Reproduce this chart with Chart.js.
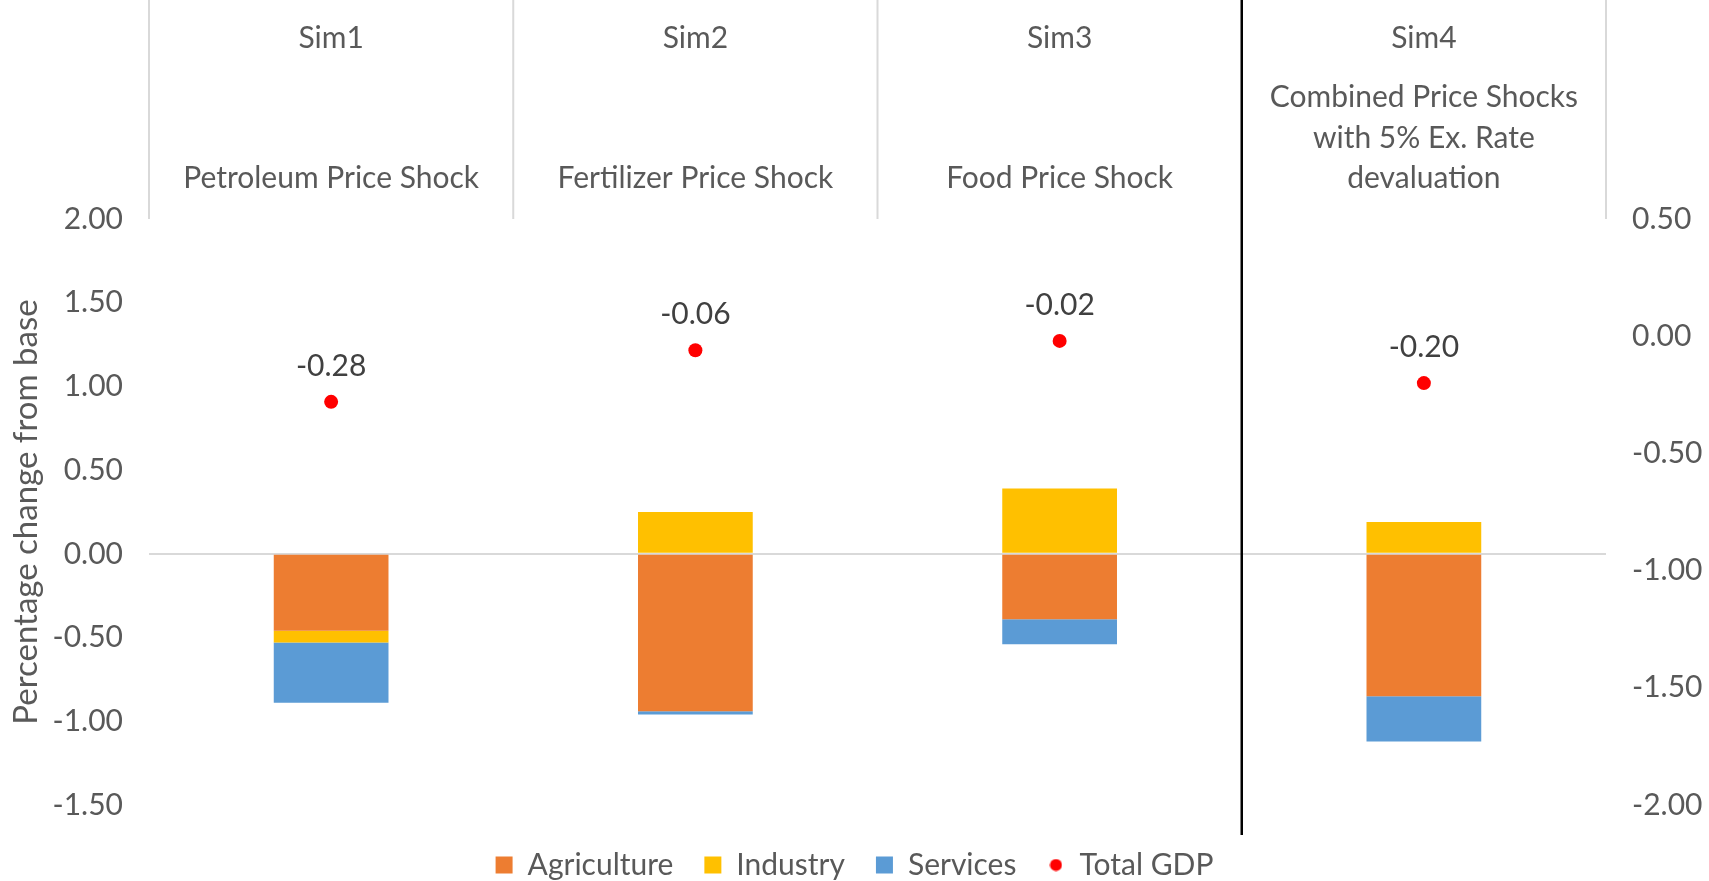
<!DOCTYPE html>
<html>
<head>
<meta charset="utf-8">
<script src="https://cdn.jsdelivr.net/npm/chart.js@4.4.1/dist/chart.umd.min.js"></script>
<style>
  html, body { margin: 0; padding: 0; background: #fff; }
</style>
</head>
<body>
<canvas id="chart" width="1709" height="881"></canvas>
<script>
// --- Data ---
const simNames = ['Sim1', 'Sim2', 'Sim3', 'Sim4'];
const shockNames = [
    ['Petroleum Price Shock'],
    ['Fertilizer Price Shock'],
    ['Food Price Shock'],
    ['Combined Price Shocks', 'with 5% Ex. Rate', 'devaluation']
];
const agriculture = [-0.46, -0.94, -0.39, -0.85];
const industry = [-0.07, 0.25, 0.39, 0.19];
const services = [-0.36, -0.02, -0.15, -0.27];
const totalGdp = [-0.28, -0.06, -0.02, -0.20];

const FONT = 'Lato';
const TEXT = '#595959';

// small red dot for the legend entry of Total GDP
const dot = document.createElement('canvas');
dot.width = 13;
dot.height = 13;
const dctx = dot.getContext('2d');
dctx.fillStyle = '#ff0000';
dctx.beginPath();
dctx.arc(6.5, 6.5, 6, 0, Math.PI * 2);
dctx.fill();

// value labels above the GDP dots
const gdpLabels = {
    id: 'gdpLabels',
    afterDatasetsDraw(chart) {
        const meta = chart.getDatasetMeta(3);
        const ctx = chart.ctx;
        ctx.save();
        ctx.font = `30px ${FONT}`;
        ctx.fillStyle = '#404040';
        ctx.textAlign = 'center';
        ctx.textBaseline = 'middle';
        meta.data.forEach((pt, i) => {
            ctx.fillText(totalGdp[i].toFixed(2), pt.x, pt.y - 36);
        });
        ctx.restore();
    }
};

// category separators in the header, and the black line before Sim4
const dividers = {
    id: 'dividers',
    afterDraw(chart) {
        const xs = chart.scales.x;
        const area = chart.chartArea;
        const ctx = chart.ctx;
        const half = (xs.getPixelForValue(1) - xs.getPixelForValue(0)) / 2;
        ctx.save();
        for (let i = 0; i <= simNames.length; i++) {
            const px = i < simNames.length ? xs.getPixelForValue(i) - half : xs.getPixelForValue(i - 1) + half;
            ctx.beginPath();
            if (i === 3) {
                ctx.strokeStyle = '#000000';
                ctx.lineWidth = 2.5;
                ctx.moveTo(px, 0);
                ctx.lineTo(px, area.bottom + 30);
            } else {
                ctx.strokeStyle = '#d9d9d9';
                ctx.lineWidth = 2;
                ctx.moveTo(px, 0);
                ctx.lineTo(px, area.top);
            }
            ctx.stroke();
        }
        ctx.restore();
    }
};

new Chart(document.getElementById('chart'), {
    type: 'bar',
    data: {
        labels: shockNames,
        datasets: [
            { label: 'Agriculture', data: agriculture, backgroundColor: '#ed7d31', borderWidth: 0 },
            { label: 'Industry', data: industry, backgroundColor: '#ffc000', borderWidth: 0 },
            { label: 'Services', data: services, backgroundColor: '#5b9bd5', borderWidth: 0 },
            {
                label: 'Total GDP',
                type: 'line',
                data: totalGdp,
                yAxisID: 'y2',
                showLine: false,
                pointRadius: 7,
                pointHoverRadius: 7,
                pointBackgroundColor: '#ff0000',
                pointBorderWidth: 0,
                borderColor: '#ff0000',
                backgroundColor: '#ff0000'
            }
        ]
    },
    options: {
        responsive: false,
        animation: false,
        categoryPercentage: 1,
        barPercentage: 0.315,
        layout: { padding: { left: 0, right: 0, top: 0, bottom: -9 } },
        plugins: {
            tooltip: { enabled: false },
            legend: {
                position: 'bottom',
                // empty title only used as a spacer above the legend items
                title: { display: true, text: ' ', font: { size: 1, lineHeight: 1 }, padding: { top: 13, bottom: 0 } },
                labels: {
                    font: { family: FONT, size: 30 },
                    color: TEXT,
                    usePointStyle: true,
                    boxWidth: 17,
                    boxHeight: 17,
                    padding: 31,
                    generateLabels(chart) {
                        const items = Chart.defaults.plugins.legend.labels.generateLabels(chart);
                        items.forEach((item, i) => {
                            item.pointStyle = i < 3 ? 'rect' : dot;
                            item.lineWidth = 0;
                        });
                        return items;
                    }
                }
            }
        },
        scales: {
            x: {
                position: 'top',
                stacked: true,
                grid: { display: false },
                border: { display: false },
                ticks: {
                    font: { family: FONT, size: 30, lineHeight: 1.35 },
                    color: TEXT,
                    padding: 12,
                    maxRotation: 0,
                    autoSkip: false
                },
                afterFit(scale) { scale.height = 151; }
            },
            x2: {
                type: 'category',
                labels: simNames,
                position: 'top',
                weight: 1,
                grid: { display: false },
                border: { display: false },
                ticks: {
                    font: { family: FONT, size: 30, lineHeight: 1.2 },
                    color: TEXT,
                    padding: 4
                },
                afterFit(scale) { scale.height = 68; }
            },
            y: {
                stacked: true,
                min: -1.5,
                max: 2,
                grid: {
                    color: ctx => ctx.tick.value === 0 ? '#d9d9d9' : 'rgba(0,0,0,0)',
                    lineWidth: 2,
                    drawTicks: false
                },
                border: { display: false },
                ticks: {
                    stepSize: 0.5,
                    font: { family: FONT, size: 30 },
                    color: TEXT,
                    padding: 26,
                    callback: v => v.toFixed(2)
                },
                title: {
                    display: true,
                    text: 'Percentage change from base',
                    font: { family: FONT, size: 33 },
                    color: TEXT,
                    padding: { top: 7, bottom: 0 }
                },
                afterFit(scale) { scale.width = 149; }
            },
            y2: {
                position: 'right',
                min: -2,
                max: 0.5,
                grid: { display: false },
                border: { display: false },
                ticks: {
                    stepSize: 0.5,
                    font: { family: FONT, size: 30 },
                    color: TEXT,
                    padding: 18,
                    callback: v => v.toFixed(2)
                },
                afterFit(scale) { scale.width = 103; }
            }
        }
    },
    plugins: [gdpLabels, dividers]
});
</script>
</body>
</html>
